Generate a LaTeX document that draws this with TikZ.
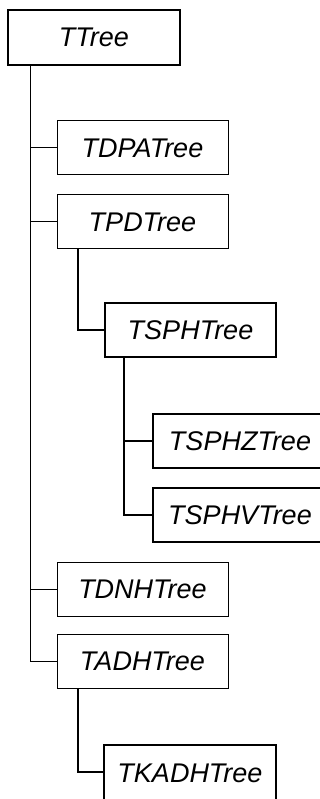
\documentclass[tikz,border=0pt]{standalone}
\usepackage{fontspec}
\setmainfont{Liberation Sans}
\usetikzlibrary{calc}
\begin{document}
\begin{tikzpicture}[x=1pt,y=-1pt,
  cls/.style={draw, anchor=north west, minimum width=171pt, minimum height=54pt,
    inner sep=0pt, outer sep=0pt, font=\fontsize{27}{30}\selectfont\itshape},
  thinbox/.style={cls, line width=1pt},
  thickbox/.style={cls, line width=2.4pt},
  thinline/.style={line width=1pt},
  thickline/.style={line width=2.4pt}]
\useasboundingbox (0,0) rectangle (320,799);
\clip (0,0) rectangle (320,799);
\node[thickbox, minimum width=172pt, minimum height=55pt] (TTree) at (8,10) {TTree};
\node[thinbox] (TDPA) at (57,121) {TDPATree};
\node[thinbox] (TPD) at (57,195) {TPDTree};
\node[thickbox] (TSPH) at (105,303) {TSPHTree};
\node[thickbox, minimum width=174pt] (TSPHZ) at (153,414) {TSPHZTree};
\node[thickbox, minimum width=174pt] (TSPHV) at (153,488) {TSPHVTree};
\node[thinbox] (TDNH) at (57,562) {TDNHTree};
\node[thinbox] (TADH) at (57,634) {TADHTree};
\node[thickbox, minimum width=172pt, minimum height=58pt] (TKADH) at (104,745) {\raisebox{2pt}{TKADHTree}};
% connectors
\coordinate (t0) at ($(TTree.south west)+(22,0)$);
\draw[thinline] (t0) |- (TADH.west);
\draw[thinline] (t0) |- (TDPA.west);
\draw[thinline] (t0) |- (TPD.west);
\draw[thinline] (t0) |- (TDNH.west);
\coordinate (p0) at ($(TPD.south west)+(21,0)$);
\draw[thickline] (p0) |- (TSPH.west);
\coordinate (s0) at ($(TSPH.south west)+(19,0)$);
\draw[thickline] (s0) |- (TSPHV.west);
\draw[thickline] (s0) |- (TSPHZ.west);
\coordinate (a0) at ($(TADH.south west)+(21,0)$);
\coordinate (k0) at ($(TKADH.north west)+(0,27)$);
\draw[thickline] (a0) |- (k0);
\end{tikzpicture}
\end{document}
